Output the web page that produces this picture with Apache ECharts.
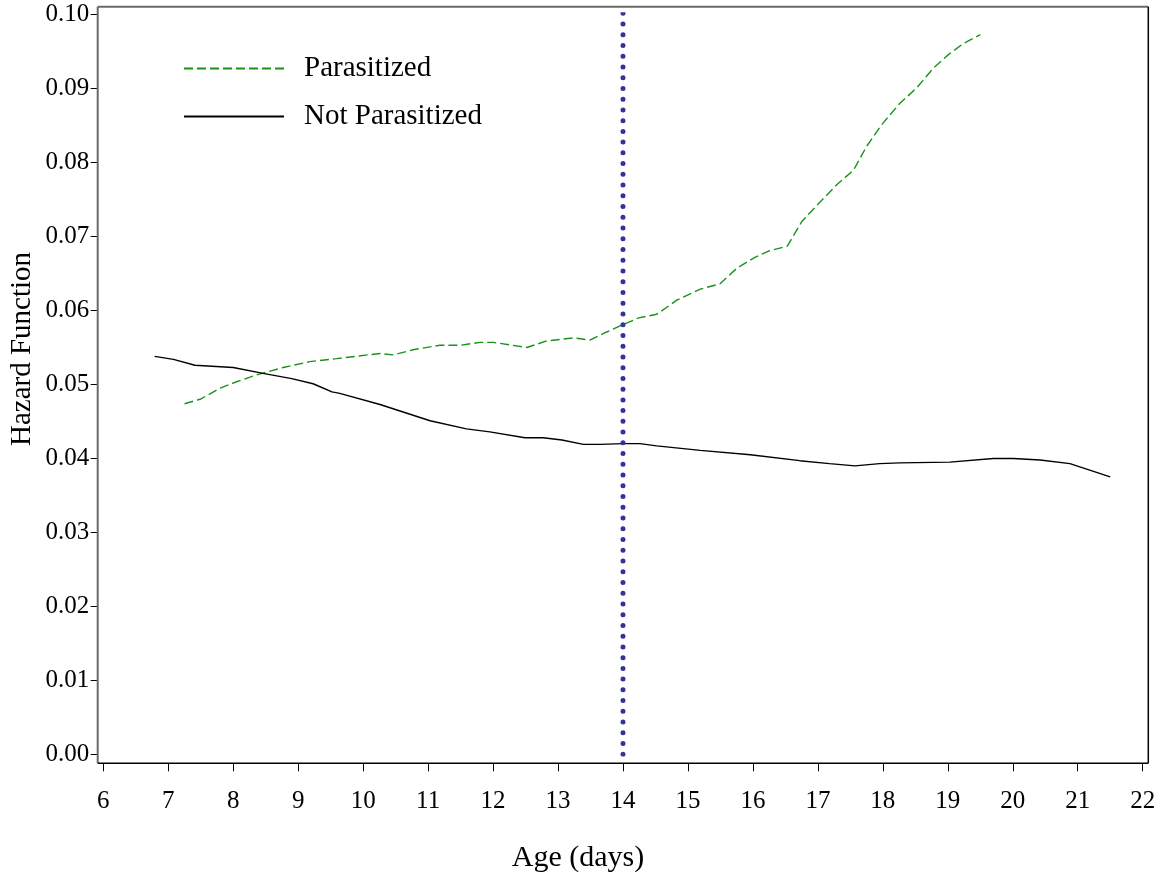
<!DOCTYPE html>
<html>
<head>
<meta charset="utf-8">
<title>Hazard Function by Age</title>
<script src="https://cdn.jsdelivr.net/npm/echarts@6/dist/echarts.min.js"></script>
<style>
  html, body { margin: 0; padding: 0; background: #fff; }
  #chart { width: 1166px; height: 880px; }
</style>
</head>
<body>
<div id="chart"></div>
<script>
// Smoothed hazard estimates by age (days)
const parasitizedAge = [7.25, 7.49, 7.80, 8.03, 8.36, 8.77, 9.18, 9.59, 10.26, 10.46, 10.77, 11.18, 11.49, 11.80, 12.00, 12.52, 12.83, 13.24, 13.49, 13.75, 14.00, 14.24, 14.52, 14.83, 15.19, 15.49, 15.75, 16.03, 16.26, 16.53, 16.75, 16.96, 17.29, 17.55, 17.75, 17.98, 18.26, 18.52, 18.78, 19.01, 19.24, 19.50];
const parasitizedHazard = [0.0474, 0.0480, 0.0495, 0.0503, 0.0513, 0.0523, 0.0531, 0.0535, 0.0542, 0.0540, 0.0547, 0.0553, 0.0553, 0.0557, 0.0557, 0.0550, 0.0559, 0.0563, 0.0560, 0.0571, 0.0581, 0.0590, 0.0595, 0.0614, 0.0629, 0.0636, 0.0657, 0.0672, 0.0681, 0.0687, 0.0720, 0.0740, 0.0770, 0.0790, 0.0822, 0.0851, 0.0880, 0.0901, 0.0928, 0.0946, 0.0961, 0.0973];

const notParasitizedAge = [6.79, 7.08, 7.41, 8.00, 8.46, 8.90, 9.23, 9.52, 9.64, 10.26, 11.03, 11.59, 11.95, 12.49, 12.77, 13.06, 13.39, 13.65, 14.00, 14.26, 14.52, 15.19, 15.96, 16.72, 17.18, 17.57, 17.95, 18.26, 19.03, 19.70, 20.01, 20.42, 20.88, 21.50];
const notParasitizedHazard = [0.0538, 0.0534, 0.0526, 0.0523, 0.0515, 0.0508, 0.0501, 0.0490, 0.0488, 0.0473, 0.0451, 0.0440, 0.0436, 0.0428, 0.0428, 0.0425, 0.0419, 0.0419, 0.0420, 0.0420, 0.0417, 0.0411, 0.0405, 0.0397, 0.0393, 0.0390, 0.0393, 0.0394, 0.0395, 0.0400, 0.0400, 0.0398, 0.0393, 0.0375];

// Reference age marked by the vertical dotted line
const referenceAge = 14;
const referenceSpan = [0, 0.1008];

const xTicks = { min: 6, max: 22, step: 1 };
const yTicks = { min: 0, max: 0.1, step: 0.01 };

const xTitle = 'Age (days)';
const yTitle = 'Hazard Function';

const serif = "'Liberation Serif', 'Times New Roman', 'DejaVu Serif', serif";

const pairs = (xs, ys) => xs.map((x, i) => [x, ys[i]]);

const chart = echarts.init(document.getElementById('chart'), null, { renderer: 'canvas' });

// Plot frame (outer box around the data region); the axes sit on its
// bottom and left edges, slightly outside the data range.
const frame = { left: 97.7, top: 6.7, right: 1148.3, bottom: 763.3 };
const dataBox = { left: 103.3, right: 23.3, top: 14.7, bottom: 125.7 };

const hiddenAxis = { show: false };
const xScale = { type: 'value', min: xTicks.min, max: xTicks.max, interval: xTicks.step };
const yScale = { type: 'value', min: yTicks.min, max: yTicks.max, interval: yTicks.step };

chart.setOption({
  animation: false,
  backgroundColor: '#ffffff',
  grid: [
    // 0: data region
    { left: dataBox.left, right: dataBox.right, top: dataBox.top, bottom: dataBox.bottom },
    // 1: horizontal axis on the frame's bottom edge
    { left: dataBox.left, right: dataBox.right, top: dataBox.top, bottom: 880 - frame.bottom },
    // 2: vertical axis on the frame's left edge
    { left: frame.left, right: dataBox.right, top: dataBox.top, bottom: dataBox.bottom }
  ],
  legend: {
    orient: 'vertical',
    left: 183,
    top: 54,
    padding: 0,
    itemWidth: 100,
    itemHeight: 14,
    itemGap: 19,
    data: ['Parasitized', 'Not Parasitized'],
    itemStyle: { color: 'rgba(0,0,0,0)', opacity: 0, borderWidth: 0 },
    textStyle: { fontFamily: serif, fontSize: 29, color: '#000', padding: [0, 0, 0, 15] }
  },
  xAxis: [
    Object.assign({ gridIndex: 0 }, xScale, hiddenAxis),
    Object.assign({ gridIndex: 1 }, xScale, {
      axisLine: { show: false },
      axisTick: { show: true, length: 8, lineStyle: { color: '#000', width: 1 } },
      axisLabel: { fontFamily: serif, fontSize: 25, color: '#000', margin: 26 },
      splitLine: { show: false }
    }),
    Object.assign({ gridIndex: 2 }, xScale, hiddenAxis)
  ],
  yAxis: [
    Object.assign({ gridIndex: 0 }, yScale, hiddenAxis),
    Object.assign({ gridIndex: 1 }, yScale, hiddenAxis),
    Object.assign({ gridIndex: 2 }, yScale, {
      axisLine: { show: false },
      axisTick: { show: true, length: 7, lineStyle: { color: '#000', width: 1 } },
      axisLabel: {
        fontFamily: serif, fontSize: 25, color: '#000', margin: 8.5,
        formatter: v => v.toFixed(2)
      },
      splitLine: { show: false }
    })
  ],
  graphic: [
    { type: 'line', silent: true, z: 10,
      shape: { x1: frame.left, y1: frame.top, x2: frame.left, y2: frame.bottom },
      style: { stroke: '#6a6a6a', lineWidth: 2 } },
    { type: 'line', silent: true, z: 10,
      shape: { x1: frame.left, y1: frame.top, x2: frame.right, y2: frame.top },
      style: { stroke: '#6a6a6a', lineWidth: 2 } },
    { type: 'line', silent: true, z: 10,
      shape: { x1: frame.left, y1: frame.bottom, x2: frame.right, y2: frame.bottom },
      style: { stroke: '#000', lineWidth: 1.5 } },
    { type: 'line', silent: true, z: 10,
      shape: { x1: frame.right, y1: frame.top, x2: frame.right, y2: frame.bottom },
      style: { stroke: '#000', lineWidth: 1.5 } },
    // Axis titles
    { type: 'text', silent: true, x: 578, y: 858,
      style: { text: xTitle, font: '30px ' + serif, fill: '#000', textAlign: 'center', textVerticalAlign: 'middle' } },
    { type: 'text', silent: true, x: 22, y: 349, rotation: Math.PI / 2,
      style: { text: yTitle, font: '29px ' + serif, fill: '#000', textAlign: 'center', textVerticalAlign: 'middle' } }
  ],
  series: [
    {
      name: 'Parasitized',
      type: 'line',
      xAxisIndex: 0, yAxisIndex: 0,
      data: pairs(parasitizedAge, parasitizedHazard),
      symbol: 'none',
      smooth: false,
      lineStyle: { color: '#1a921a', width: 1.4, type: [9, 4] },
      itemStyle: { color: '#1a921a' },
      z: 3
    },
    {
      name: 'Not Parasitized',
      type: 'line',
      xAxisIndex: 0, yAxisIndex: 0,
      data: pairs(notParasitizedAge, notParasitizedHazard),
      symbol: 'none',
      smooth: false,
      lineStyle: { color: '#000', width: 1.4, type: 'solid' },
      itemStyle: { color: '#000' },
      z: 3
    },
    {
      name: 'Reference age',
      type: 'line',
      xAxisIndex: 0, yAxisIndex: 0,
      data: referenceSpan.map(v => [referenceAge, v]),
      symbol: 'none',
      lineStyle: { color: '#333399', width: 5, type: [0, 10.74], cap: 'round' },
      z: 4
    }
  ]
});
</script>
</body>
</html>
